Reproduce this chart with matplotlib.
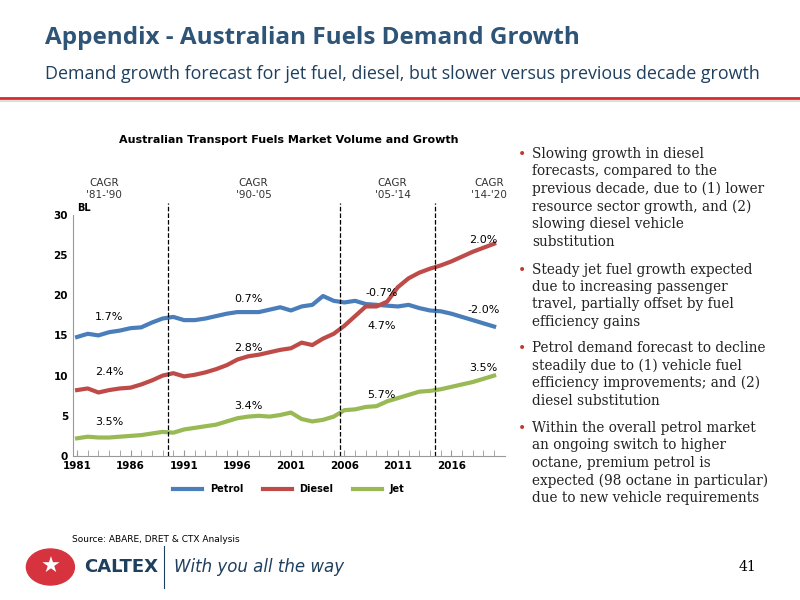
import matplotlib
matplotlib.use("Agg")
import matplotlib.pyplot as plt
from matplotlib.patches import Circle
import numpy as np

years = list(range(1981, 2021))
petrol = [14.8, 15.2, 15.0, 15.4, 15.6, 15.9, 16.0, 16.6, 17.1, 17.3,
          16.9, 16.9, 17.1, 17.4, 17.7, 17.9, 17.9, 17.9, 18.2, 18.5,
          18.1, 18.6, 18.8, 19.9, 19.3, 19.1, 19.3, 18.9, 18.8, 18.7,
          18.6, 18.8, 18.4, 18.1, 18.0, 17.7, 17.3, 16.9, 16.5, 16.1]
diesel = [8.2, 8.4, 7.9, 8.2, 8.4, 8.5, 8.9, 9.4, 10.0, 10.3,
          9.9, 10.1, 10.4, 10.8, 11.3, 12.0, 12.4, 12.6, 12.9, 13.2,
          13.4, 14.1, 13.8, 14.6, 15.2, 16.2, 17.4, 18.6, 18.6, 19.2,
          21.0, 22.1, 22.8, 23.3, 23.7, 24.2, 24.8, 25.4, 25.9, 26.4]
jet = [2.2, 2.4, 2.3, 2.3, 2.4, 2.5, 2.6, 2.8, 3.0, 2.9,
       3.3, 3.5, 3.7, 3.9, 4.3, 4.7, 4.9, 5.0, 4.9, 5.1,
       5.4, 4.6, 4.3, 4.5, 4.9, 5.7, 5.8, 6.1, 6.2, 6.8,
       7.2, 7.6, 8.0, 8.1, 8.3, 8.6, 8.9, 9.2, 9.6, 10.0]
period_labels = ["CAGR\n'81-'90", "CAGR\n'90-'05", "CAGR\n'05-'14", "CAGR\n'14-'20"]
period_x = [1983.5, 1997.5, 2010.5, 2019.5]
dividers = [1989.5, 2005.6, 2014.5]
# (x, y, text) growth labels
cagr_petrol = [(1984, 17.3, "1.7%"), (1997, 19.5, "0.7%"), (2009.5, 20.3, "-0.7%"), (2019, 18.2, "-2.0%")]
cagr_diesel = [(1984, 10.5, "2.4%"), (1997, 13.4, "2.8%"), (2009.5, 16.2, "4.7%"), (2019, 26.9, "2.0%")]
cagr_jet = [(1984, 4.2, "3.5%"), (1997, 6.2, "3.4%"), (2009.5, 7.6, "5.7%"), (2019, 11.0, "3.5%")]

blue, red, green = "#4a7ebb", "#be4b48", "#98b954"
navy = "#1f3f5f"

fig = plt.figure(figsize=(8, 6), dpi=100)
fig.text(0.056, 0.937, "Appendix - Australian Fuels Demand Growth", fontsize=17.5, color="#2e5577",
         weight="bold", family="Open Sans", va="center")
fig.text(0.056, 0.877, "Demand growth forecast for jet fuel, diesel, but slower versus previous decade growth",
         fontsize=12.9, color=navy, family="Open Sans", va="center")
fig.add_artist(plt.Line2D([0, 1], [0.837, 0.837], color="#d62b2b", lw=2))
fig.add_artist(plt.Line2D([0, 1], [0.832, 0.832], color="#dddddd", lw=1.5))

ax = fig.add_axes([0.091, 0.24, 0.54, 0.402])
ax.plot(years, petrol, color=blue, lw=3, label="Petrol")
ax.plot(years, diesel, color=red, lw=3, label="Diesel")
ax.plot(years, jet, color=green, lw=3, label="Jet")
ax.set_xlim(1980.6, 2021)
ax.set_ylim(0, 30)
ax.set_yticks(range(0, 31, 5))
ax.set_xticks(range(1981, 2021, 5))
ax.set_xticks(range(1981, 2021), minor=True)
for s in ["top", "right"]:
    ax.spines[s].set_visible(False)
for s in ["left", "bottom"]:
    ax.spines[s].set_color("#999999")
ax.tick_params(axis="both", labelsize=7.5, colors="#999999")
ax.tick_params(axis="y", length=0)
ax.tick_params(axis="x", which="both", length=4, direction="in", color="#999999")
for lab in ax.get_xticklabels() + ax.get_yticklabels():
    lab.set_color("black"); lab.set_fontweight("bold")
for d in dividers:
    ax.axvline(d, color="black", ls="--", lw=0.9, ymax=1.05, clip_on=False)
for grp in (cagr_petrol, cagr_diesel, cagr_jet):
    for x, y, t in grp:
        ax.text(x, y, t, fontsize=8, ha="center", va="center")
for x, t in zip(period_x, period_labels):
    ax.text(x, 33.2, t, fontsize=7.5, ha="center", va="center", color="#333333")
ax.text(1981, 30.5, "BL", fontsize=7, weight="bold")
ax.set_title("Australian Transport Fuels Market Volume and Growth", fontsize=8, weight="bold", pad=52)
ax.legend(loc="upper center", bbox_to_anchor=(0.5, -0.08), ncol=3, frameon=False,
          handlelength=3, prop={"weight": "bold", "size": 7})

bullets = [
    "Slowing growth in diesel\nforecasts, compared to the\nprevious decade, due to (1) lower\nresource sector growth, and (2)\nslowing diesel vehicle\nsubstitution",
    "Steady jet fuel growth expected\ndue to increasing passenger\ntravel, partially offset by fuel\nefficiency gains",
    "Petrol demand forecast to decline\nsteadily due to (1) vehicle fuel\nefficiency improvements; and (2)\ndiesel substitution",
    "Within the overall petrol market\nan ongoing switch to higher\noctane, premium petrol is\nexpected (98 octane in particular)\ndue to new vehicle requirements",
]
bullet_y = [0.755, 0.562, 0.432, 0.298]
for y, b in zip(bullet_y, bullets):
    fig.text(0.647, y, "•", fontsize=10, color="#c0392b", va="top")
    fig.text(0.665, y, b, fontsize=9.8, family="DejaVu Serif", color="#222222", va="top", linespacing=1.3)

fig.text(0.09, 0.097, "Source: ABARE, DRET & CTX Analysis", fontsize=6.5)
fig.add_artist(Circle((0.063, 0.055), 0.03, transform=fig.transFigure, color="#d6333f"))
fig.text(0.063, 0.055, "★", fontsize=16, color="white", ha="center", va="center", transform=fig.transFigure)
fig.text(0.105, 0.055, "CALTEX", fontsize=13, weight="bold", color=navy, va="center")
fig.add_artist(plt.Line2D([0.205, 0.205], [0.02, 0.09], color=navy, lw=0.8))
fig.text(0.218, 0.055, "With you all the way", fontsize=12, style="italic", color=navy, va="center")
fig.text(0.945, 0.055, "41", fontsize=10, family="DejaVu Serif", va="center", ha="right")

fig.savefig("out.png", dpi=100)
